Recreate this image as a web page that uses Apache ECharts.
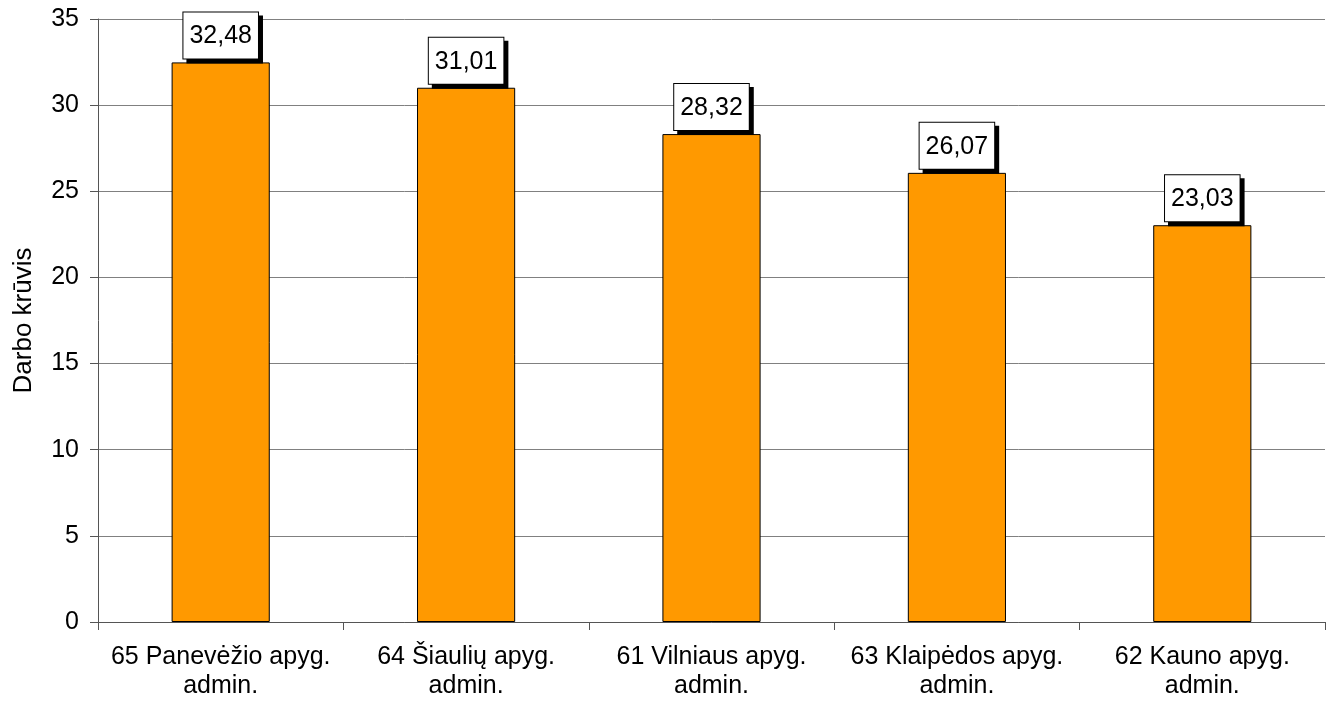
<!DOCTYPE html>
<html><head><meta charset="utf-8">
<script src="https://cdn.jsdelivr.net/npm/echarts@6/dist/echarts.min.js"></script>
<style>html,body{margin:0;padding:0;background:#fff}#c{width:1331px;height:703px}</style>
</head><body><div id="c"></div>
<script>
const categories = ["65 Panevėžio apyg.\nadmin.", "64 Šiaulių apyg.\nadmin.", "61 Vilniaus apyg.\nadmin.", "63 Klaipėdos apyg.\nadmin.", "62 Kauno apyg.\nadmin."];
const values = [32.48, 31.01, 28.32, 26.07, 23.03];
const yAxisName = "Darbo krūvis";

const FF = 'Liberation Sans, Arial, sans-serif';
const chart = echarts.init(document.getElementById('c'));
chart.setOption({
  animation: false,
  textStyle: {fontFamily: FF},
  grid: {left: 98, right: 6, top: 19, bottom: 81, containLabel: false, outerBoundsMode: 'none'},
  xAxis: {
    type: 'category', data: categories, boundaryGap: true,
    axisLine: {lineStyle: {color: '#555', width: 1}},
    axisTick: {show: true, length: 8, lineStyle: {color: '#555'}},
    axisLabel: {color: '#000', fontSize: 25, lineHeight: 29, margin: 21, interval: 0, hideOverlap: false, fontFamily: FF}
  },
  yAxis: {
    type: 'value', min: 0, max: 35, interval: 5,
    name: yAxisName, nameLocation: 'middle', nameGap: 61, nameRotate: 90,
    nameTextStyle: {color: '#000', fontSize: 26, fontFamily: FF},
    axisLine: {show: true, lineStyle: {color: '#555', width: 1}},
    axisTick: {show: true, length: 8, lineStyle: {color: '#555'}},
    axisLabel: {color: '#000', fontSize: 25, margin: 19, fontFamily: FF},
    splitLine: {lineStyle: {color: '#808080', width: 1}}
  },
  series: [{
    type: 'bar', data: values, barWidth: '40%',
    itemStyle: {color: '#FF9900', borderColor: '#000', borderWidth: 1},
    label: {
      show: true, position: 'top', distance: 4,
      formatter: p => p.value.toFixed(2).replace('.', ','),
      color: '#000', fontSize: 25, lineHeight: 26, fontFamily: FF,
      backgroundColor: '#fff', borderColor: '#000', borderWidth: 1,
      padding: [11, 6, 9, 6],
      shadowColor: '#000', shadowBlur: 0, shadowOffsetX: 4, shadowOffsetY: 4
    }
  }]
});
</script></body></html>
